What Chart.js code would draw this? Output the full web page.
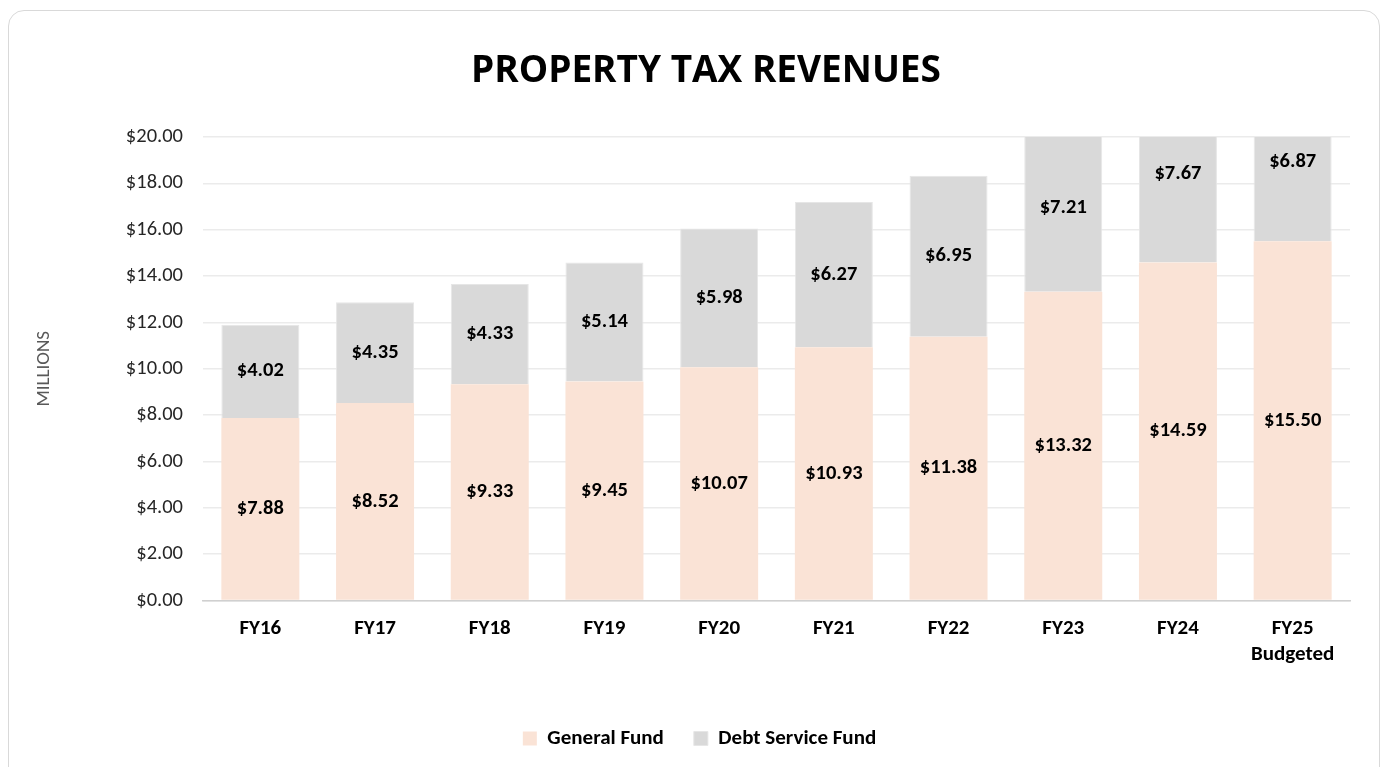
<!DOCTYPE html>
<html>
<head>
<meta charset="utf-8">
<script src="https://cdn.jsdelivr.net/npm/chart.js@4.4.1/dist/chart.umd.min.js"></script>
<style>
  html, body { margin: 0; padding: 0; background: #fff; width: 1390px; height: 767px; overflow: hidden; }
  #frame { position: absolute; left: 8px; top: 10px; width: 1372px; height: 780px; border: 1.5px solid #d9d9d9; border-radius: 16px; box-sizing: border-box; }
  #c { position: absolute; left: 0; top: 0; }
</style>
</head>
<body>
<div id="frame"></div>
<canvas id="c" width="1390" height="767"></canvas>
<script>
const chartTitle = "PROPERTY TAX REVENUES";
const categories = ["FY16", "FY17", "FY18", "FY19", "FY20", "FY21", "FY22", "FY23", "FY24", ["FY25", "Budgeted"]];
const generalFund = [7.88, 8.52, 9.33, 9.45, 10.07, 10.93, 11.38, 13.32, 14.59, 15.50];
const debtServiceFund = [4.02, 4.35, 4.33, 5.14, 5.98, 6.27, 6.95, 7.21, 7.67, 6.87];
const seriesNames = ["General Fund", "Debt Service Fund"];
const yTicks = [0, 2, 4, 6, 8, 10, 12, 14, 16, 18, 20];

const baseFont = "Carlito, Calibri, Lato, 'Open Sans', sans-serif";

const labelPlugin = {
  id: 'barLabels',
  afterDatasetsDraw(chart) {
    const ctx = chart.ctx;
    ctx.save();
    ctx.font = "bold 20.5px " + baseFont;
    ctx.fillStyle = "#000";
    ctx.textAlign = "center";
    ctx.textBaseline = "middle";
    chart.data.datasets.forEach((ds, di) => {
      const meta = chart.getDatasetMeta(di);
      meta.data.forEach((el, i) => {
        const v = ds.data[i];
        const y = (el.y + el.base) / 2;
        ctx.fillText("$" + v.toFixed(2), el.x, y);
      });
    });
    ctx.restore();
  }
};

const titlePlugin = {
  id: 'offsetTitle',
  afterDraw(chart) {
    const ctx = chart.ctx;
    ctx.save();
    ctx.font = "bold 37px 'Open Sans', sans-serif";
    ctx.fillStyle = "#000";
    ctx.textAlign = "center";
    ctx.textBaseline = "alphabetic";
    ctx.fillText(chartTitle, 706, 82);
    ctx.restore();
  }
};

new Chart(document.getElementById('c'), {
  type: 'bar',
  data: {
    labels: categories,
    datasets: [
      { label: seriesNames[0], data: generalFund, backgroundColor: '#FAE3D6', borderWidth: 0, categoryPercentage: 0.68, barPercentage: 1 },
      { label: seriesNames[1], data: debtServiceFund, backgroundColor: '#D9D9D9', borderColor: '#E6E6E6', borderWidth: 1, borderSkipped: 'bottom', categoryPercentage: 0.68, barPercentage: 1 }
    ]
  },
  options: {
    responsive: false,
    animation: false,
    layout: { padding: { left: 49, right: 40, top: 137, bottom: 8 } },
    plugins: {
      title: { display: false },
      legend: {
        position: 'bottom',
        labels: {
          color: '#000',
          font: { family: baseFont, size: 21, weight: 'bold' },
          boxWidth: 14,
          boxHeight: 14,
          padding: 30
        }
      },
      tooltip: { enabled: false }
    },
    scales: {
      x: {
        stacked: true,
        grid: { display: false, drawTicks: false },
        border: { color: '#d0d0d0', width: 1.5 },
        ticks: { color: '#000', font: { family: baseFont, size: 21, weight: 'bold' }, padding: 16, maxRotation: 0 },
        afterFit(scale) { scale.height = 97.4; }
      },
      y: {
        stacked: true,
        min: 0,
        max: 20,
        afterBuildTicks(scale) { scale.ticks = yTicks.map(v => ({ value: v })); },
        afterFit(scale) { scale.width = 154; },
        grid: { color: '#ebebeb', lineWidth: 1.5, drawTicks: false },
        border: { display: false },
        ticks: {
          color: '#262626',
          font: { family: baseFont, size: 20.5 },
          padding: 20,
          callback: v => '$' + Number(v).toFixed(2)
        },
        title: {
          display: true,
          text: 'MILLIONS',
          color: '#595959',
          font: { family: baseFont, size: 19 },
          padding: { top: -16, bottom: 0 }
        }
      }
    }
  },
  plugins: [labelPlugin, titlePlugin]
});
</script>
</body>
</html>
